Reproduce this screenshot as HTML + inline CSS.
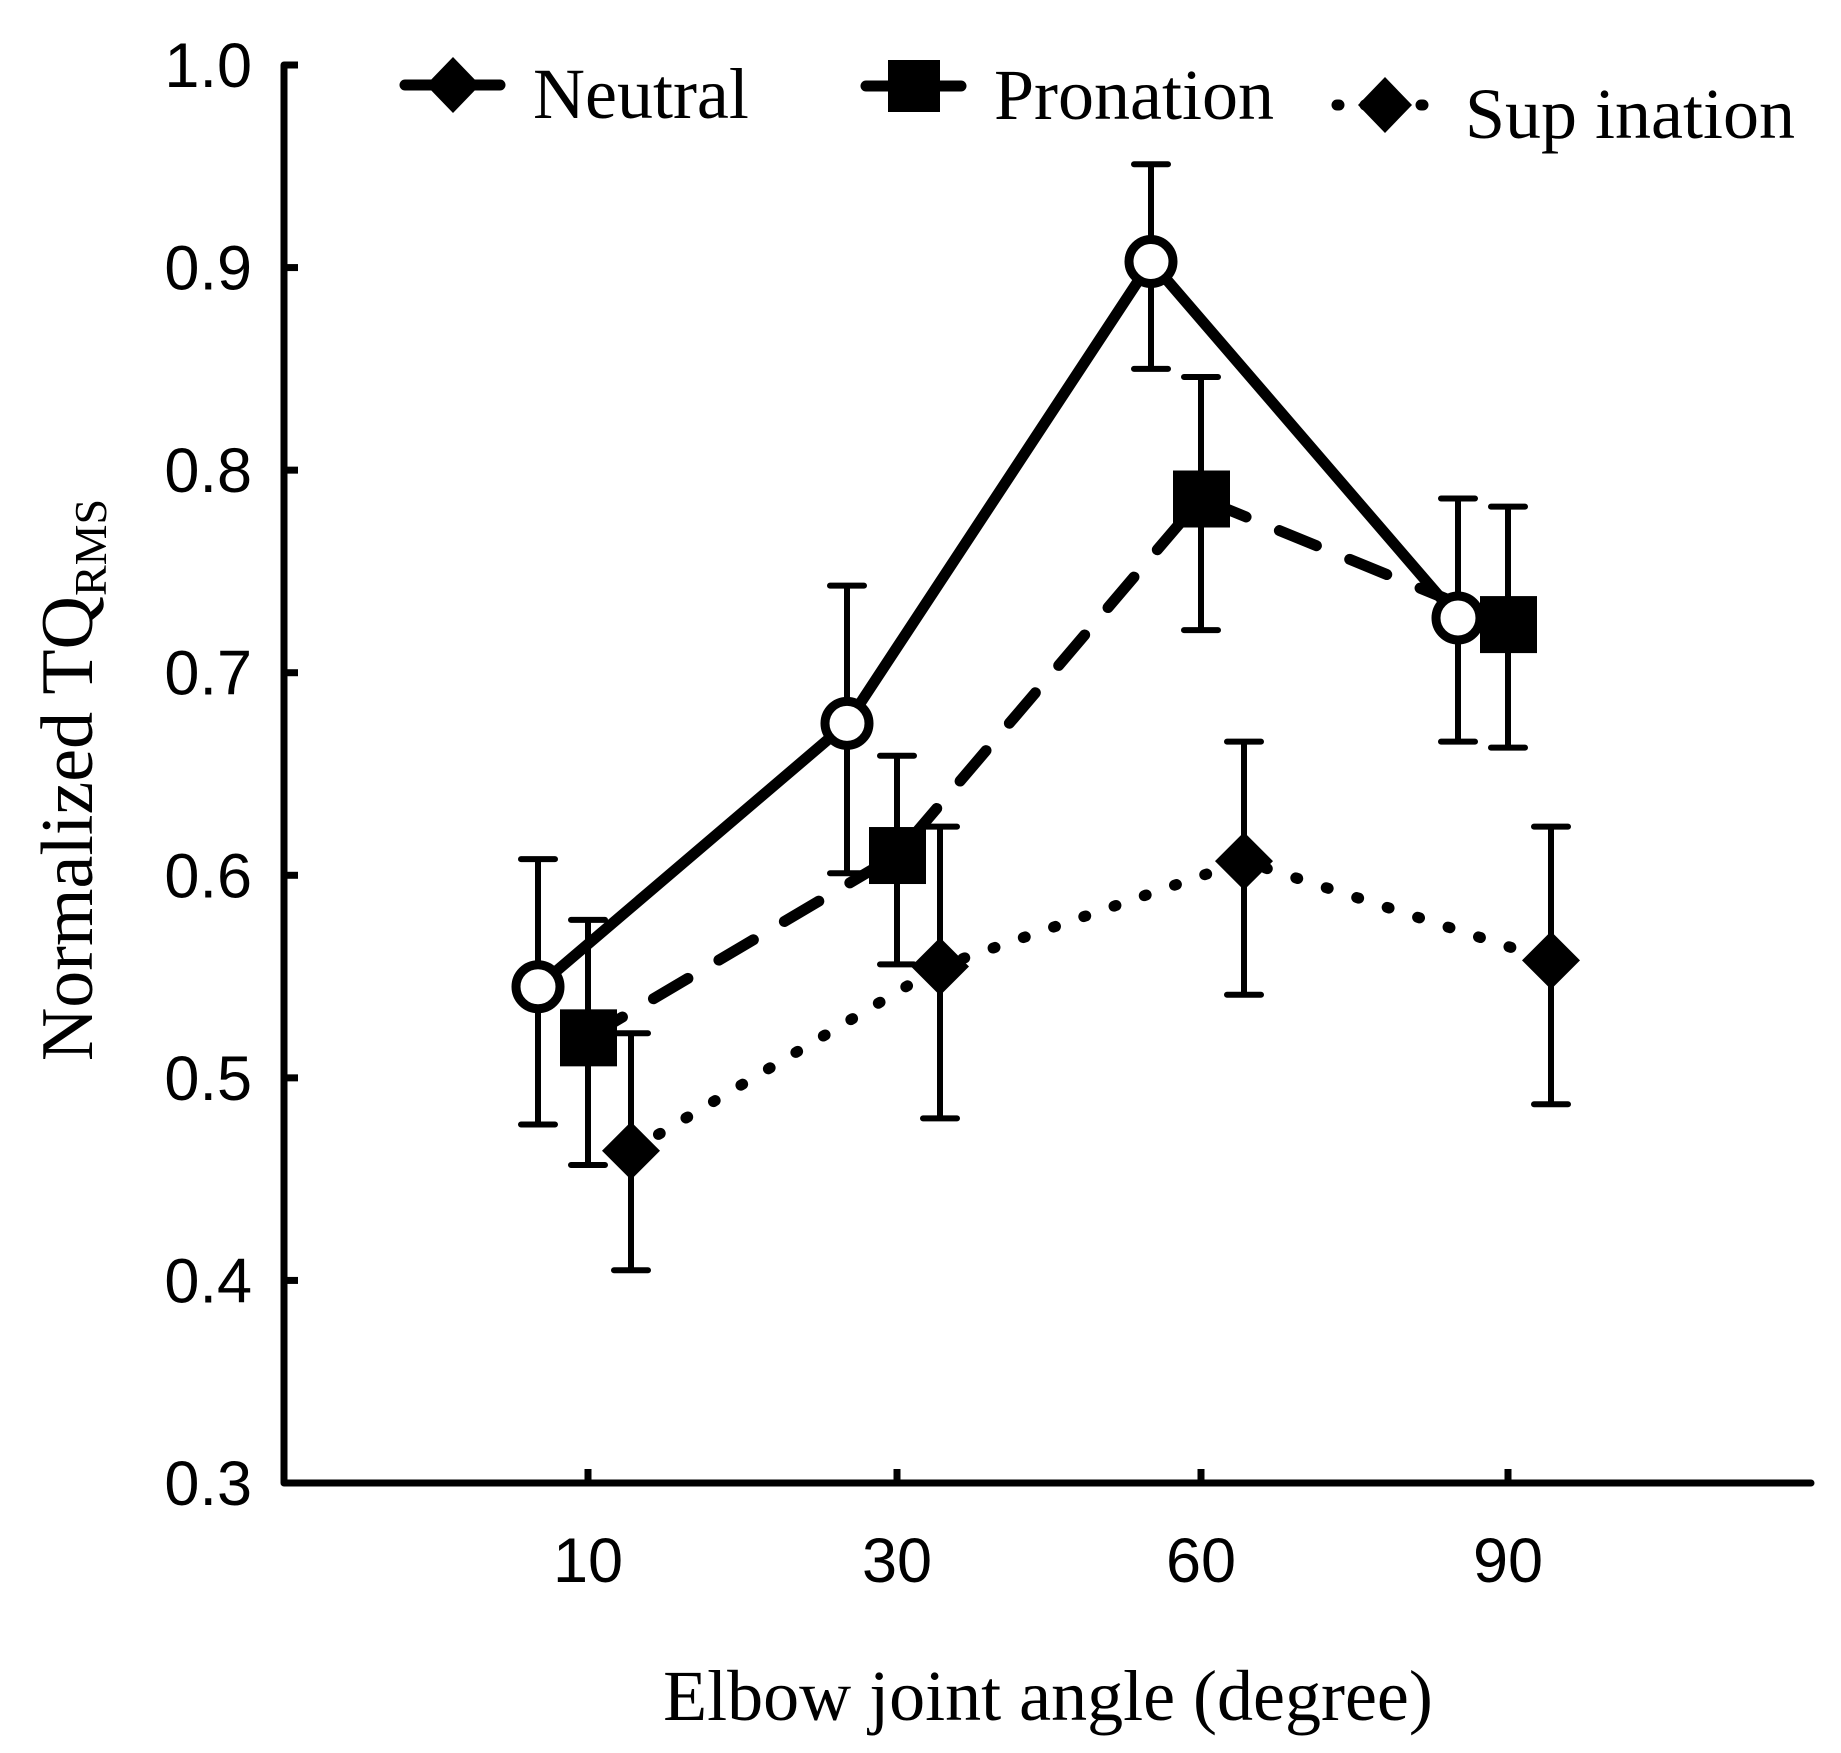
<!DOCTYPE html>
<html><head><meta charset="utf-8"><style>
html,body{margin:0;padding:0;background:#fff;}
svg{display:block;}
.tk{font-family:"Liberation Sans",sans-serif;font-size:63px;fill:#000;}
.sf{font-family:"Liberation Serif",serif;fill:#000;}
</style></head><body>
<svg id="chart" width="1841" height="1753" viewBox="0 0 1841 1753">
<g id="axes"></g>
<g id="series"></g>
<g id="legend"></g>
<text class="sf" x="1048" y="1720" font-size="72" text-anchor="middle">Elbow joint angle (degree)</text>
<text class="sf" transform="translate(92,780) rotate(-90)" font-size="74" text-anchor="middle">Normalized TQ<tspan font-size="46" dy="14">RMS</tspan></text>
</svg>
<script>
const categories = ["10","30","60","90"];
const yTicks = [0.3,0.4,0.5,0.6,0.7,0.8,0.9,1.0];
const yTickLabels = ["0.3","0.4","0.5","0.6","0.7","0.8","0.9","1.0"];
const neutralMean = [0.545,0.675,0.903,0.727];
const neutralUpper = [0.608,0.743,0.951,0.786];
const neutralLower = [0.477,0.601,0.850,0.666];
const pronationMean = [0.520,0.610,0.786,0.724];
const pronationUpper = [0.578,0.659,0.846,0.782];
const pronationLower = [0.457,0.556,0.721,0.663];
const supinationMean = [0.464,0.555,0.607,0.558];
const supinationUpper = [0.522,0.624,0.666,0.624];
const supinationLower = [0.405,0.480,0.541,0.487];

const NS="http://www.w3.org/2000/svg";
const X0=284, X1=1811, Y0=1483, Y1=65;
const catX=[588,897,1201,1508];
function xs(i,off){return catX[i]+off;}
function ys(v){return Y0-(v-0.3)/0.7*(Y0-Y1);}
function mk(tag,attrs,parent){const e=document.createElementNS(NS,tag);for(const k in attrs)e.setAttribute(k,attrs[k]);parent.appendChild(e);return e;}
const axes=document.getElementById('axes');
let l=mk('path',{d:`M${X0},${Y1} V${Y0} H${X1}`,fill:'none',stroke:'#000','stroke-width':7,'stroke-linejoin':'round','stroke-linecap':'round'},axes);


yTicks.forEach((v,i)=>{
  const y=ys(v);
  const t=mk('line',{x1:X0,x2:X0+14,y1:y,y2:y,stroke:'#000','stroke-width':7},axes);
  
  
  const tx=mk('text',{x:252,y:y+22,'text-anchor':'end',class:'tk'},axes);
  tx.textContent=yTickLabels[i];
  
  
});
categories.forEach((c,i)=>{
  const x=catX[i];
  const t=mk('line',{x1:x,x2:x,y1:Y0,y2:Y0-14,stroke:'#000','stroke-width':7},axes);
  
  
  const tx=mk('text',{x:x,y:1582,'text-anchor':'middle',class:'tk'},axes);
  tx.textContent=c;
  
  
});
const seriesG=document.getElementById('series');
function drawSeries(name,mean,up,lo,off,dash,marker){
  const g=mk('g',{},seriesG);
  
  
  const pts=mean.map((v,i)=>xs(i,off)+','+ys(v)).join(' ');
  const pl=mk('polyline',{points:pts,fill:'none',stroke:'#000','stroke-width':11,'stroke-linecap':'round','stroke-linejoin':'round','stroke-dasharray':dash},g);
  
  
  mean.forEach((v,i)=>{
    const x=xs(i,off);
    const eb=mk('path',{d:`M${x},${ys(up[i])} V${ys(lo[i])} M${x-17},${ys(up[i])} H${x+17} M${x-17},${ys(lo[i])} H${x+17}`,stroke:'#000','stroke-width':6,'stroke-linecap':'round',fill:'none'},g);
    
    
    const y=ys(v);let m;
    if(marker==='circle') m=mk('circle',{cx:x,cy:y,r:22,fill:'#fff',stroke:'#000','stroke-width':9},g);
    else if(marker==='square') m=mk('rect',{x:x-28,y:y-28,width:57,height:57,fill:'#000'},g);
    else m=mk('polygon',{points:`${x},${y-29} ${x+29},${y} ${x},${y+29} ${x-29},${y}`,fill:'#000'},g);
    
    
  });
}
drawSeries('pronation',pronationMean,pronationUpper,pronationLower,0,'40 36','square');
drawSeries('supination',supinationMean,supinationUpper,supinationLower,43,'2 30','diamond');
drawSeries('neutral',neutralMean,neutralUpper,neutralLower,-50,'none','circle');

const lg=document.getElementById('legend');
function legendEntry(name,x,y,dash,marker,label){
  const g=mk('g',{},lg);
  
  
  mk('line',{x1:x,x2:x+95,y1:y,y2:y,stroke:'#000','stroke-width':11,'stroke-linecap':'round','stroke-dasharray':dash},g);
  const cx=x+48;
  if(marker==='square') mk('rect',{x:cx-26,y:y-26,width:52,height:52,fill:'#000'},g);
  else mk('polygon',{points:`${cx},${y-28} ${cx+27},${y} ${cx},${y+28} ${cx-27},${y}`,fill:'#000'},g);
  const t=mk('text',{x:x+128,y:y+33,class:'sf','font-size':72},g);
  t.textContent=label;
}
legendEntry('neutral',405,85,'none','diamond','Neutral');
legendEntry('pronation',866,86,'none','square','Pronation');
legendEntry('supination',1337,105,'2 26','diamond','Sup ination');
</script>
</body></html>
